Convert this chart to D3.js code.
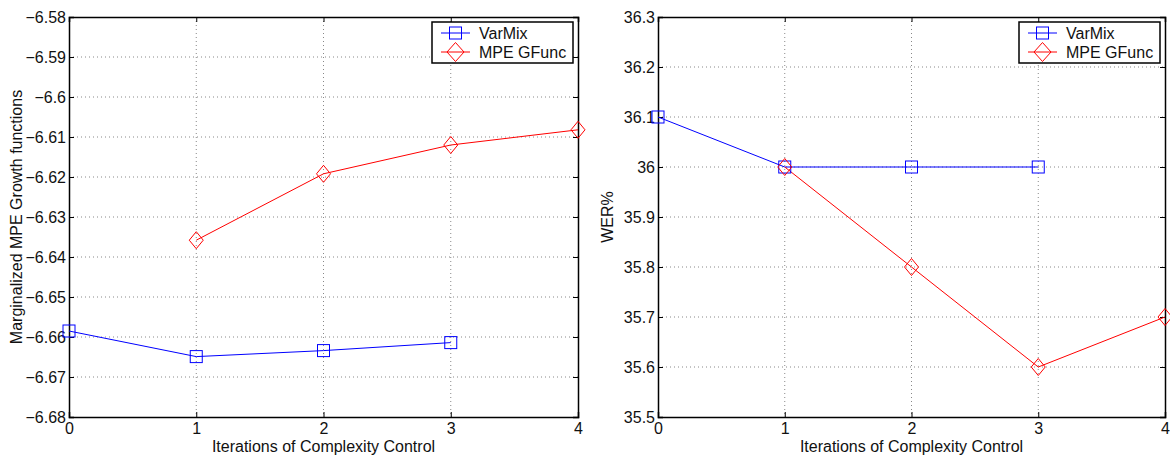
<!DOCTYPE html>
<html lang="en">
<head>
<meta charset="UTF-8" />
<title>Complexity control</title>
<script src="https://cdn.jsdelivr.net/npm/d3@7"></script>
<style>
  body { margin: 0; background: #fff; }
  text { font-family: "Liberation Sans", Arial, sans-serif; fill: #111; }
</style>
</head>
<body>
<div id="main"></div>
<script>
const iterations = [0, 1, 2, 3, 4]
const seriesNames = ["VarMix", "MPE GFunc"]

const leftVarMix = [-6.6585, -6.6649, -6.6634, -6.6614]
const leftMpe = [null, -6.6358, -6.6192, -6.612, -6.6082]
const leftTicks = [-6.58, -6.59, -6.6, -6.61, -6.62, -6.63, -6.64, -6.65, -6.66, -6.67, -6.68]

const rightVarMix = [36.1, 36.0, 36.0, 36.0]
const rightMpe = [null, 36.0, 35.8, 35.6, 35.7]
const rightTicks = [36.3, 36.2, 36.1, 36.0, 35.9, 35.8, 35.7, 35.6, 35.5]

const svgWidth = 1170
const svgHeight = 457
const plotTop = 17
const plotBottom = 417
const fontSize = 16

const svg = d3.select("#main").append("svg")
    .attr("width", svgWidth)
    .attr("height", svgHeight)

drawPanel({
    left: 69, right: 578,
    domain: [-6.68, -6.58], ticks: leftTicks,
    fmt: (d) => String(+d.toFixed(2)).replace("-", "\u2212"),
    varmix: leftVarMix, mpe: leftMpe,
    ylabel: "Marginalized MPE Growth functions", ylabelX: 16
})
drawPanel({
    left: 658, right: 1165,
    domain: [35.5, 36.3], ticks: rightTicks,
    fmt: (d) => String(+d.toFixed(1)),
    varmix: rightVarMix, mpe: rightMpe,
    ylabel: "WER%", ylabelX: 607
})

function drawPanel(o) {
    const x = d3.scaleLinear().domain([0, 4]).range([o.left, o.right])
    const y = d3.scaleLinear().domain(o.domain).range([plotBottom, plotTop])
    const g = svg.append("g")

    // grid
    g.append("g").selectAll("line")
        .data(o.ticks.slice(1, -1))
        .enter().append("line")
        .attr("x1", o.left).attr("x2", o.right)
        .attr("y1", (d) => y(d)).attr("y2", (d) => y(d))
        .attr("stroke", "#888").attr("stroke-width", 1)
        .attr("stroke-dasharray", "1,3")
    g.append("g").selectAll("line")
        .data(iterations.slice(1, -1))
        .enter().append("line")
        .attr("x1", (d) => x(d)).attr("x2", (d) => x(d))
        .attr("y1", plotTop).attr("y2", plotBottom)
        .attr("stroke", "#888").attr("stroke-width", 1)
        .attr("stroke-dasharray", "1,3")

    // axes (ticks inward)
    const yAxis = d3.axisLeft(y).tickValues(o.ticks).tickSize(-5).tickPadding(3).tickFormat(o.fmt)
    const xAxis = d3.axisBottom(x).tickValues(iterations).tickSize(-5).tickPadding(6).tickFormat(d3.format("d"))
    g.append("g").attr("transform", `translate(${o.left},0)`).call(yAxis)
    const xa = g.append("g").attr("transform", `translate(0,${plotBottom})`).call(xAxis)
    g.append("g").attr("transform", `translate(${o.right},0)`)
        .call(d3.axisRight(y).tickValues(o.ticks).tickSize(-5).tickFormat(""))
    g.append("g").attr("transform", `translate(0,${plotTop})`)
        .call(d3.axisTop(x).tickValues(iterations).tickSize(-5).tickFormat(""))
    g.selectAll(".domain").attr("stroke", "#000").attr("stroke-width", 1.5)
    g.selectAll(".tick line").attr("stroke", "#000")
    g.selectAll(".tick text").attr("font-size", fontSize).attr("font-family", "Liberation Sans, Arial, sans-serif").attr("fill", "#111")
    xa.selectAll(".tick text").attr("dy", "0.7em")

    // lines
    const line = d3.line().defined((d) => d[1] != null).x((d) => x(d[0])).y((d) => y(d[1]))
    const vm = o.varmix.map((v, i) => [iterations[i], v])
    const mp = o.mpe.map((v, i) => [iterations[i], v])
    g.append("path").datum(vm).attr("d", line).attr("fill", "none").attr("stroke", "#0000ff").attr("stroke-width", 1)
    g.append("path").datum(mp).attr("d", line).attr("fill", "none").attr("stroke", "#ff0000").attr("stroke-width", 1)

    g.selectAll("rect.vm").data(vm).enter().append("rect").classed("vm", true)
        .attr("x", (d) => x(d[0]) - 6).attr("y", (d) => y(d[1]) - 6)
        .attr("width", 12).attr("height", 12)
        .attr("fill", "none").attr("stroke", "#0000ff").attr("stroke-width", 1)
    g.selectAll("path.mp").data(mp.filter((d) => d[1] != null)).enter().append("path").classed("mp", true)
        .attr("d", (d) => diamond(x(d[0]), y(d[1]), 7, 8.5))
        .attr("fill", "none").attr("stroke", "#ff0000").attr("stroke-width", 1)

    // labels
    g.append("text")
        .attr("x", (o.left + o.right) / 2).attr("y", 452)
        .attr("text-anchor", "middle").attr("font-size", fontSize)
        .text("Iterations of Complexity Control")
    g.append("text")
        .attr("transform", `translate(${o.ylabelX},${(plotTop + plotBottom) / 2}) rotate(-90)`)
        .attr("text-anchor", "middle").attr("dy", "0.35em").attr("font-size", fontSize)
        .text(o.ylabel)

    // legend
    const lx = o.right - 146, ly = 22
    const lg = g.append("g")
    lg.append("rect").attr("x", lx).attr("y", ly).attr("width", 141).attr("height", 41)
        .attr("fill", "#fff").attr("stroke", "#000").attr("stroke-width", 1.5)
    const colors = ["#0000ff", "#ff0000"]
    seriesNames.forEach((name, i) => {
        const cy = ly + 11 + i * 19
        lg.append("line").attr("x1", lx + 9).attr("x2", lx + 38).attr("y1", cy).attr("y2", cy)
            .attr("stroke", colors[i]).attr("stroke-width", 1)
        if (i === 0) {
            lg.append("rect").attr("x", lx + 17.5).attr("y", cy - 6).attr("width", 12).attr("height", 12)
                .attr("fill", "none").attr("stroke", colors[i])
        } else {
            lg.append("path").attr("d", diamond(lx + 23.5, cy, 8.5, 9.5)).attr("fill", "none").attr("stroke", colors[i])
        }
        lg.append("text").attr("x", lx + 47).attr("y", cy).attr("dy", "0.35em")
            .attr("font-size", fontSize).text(name)
    })
}

function diamond(cx, cy, rx, ry) {
    return `M${cx},${cy - ry}L${cx + rx},${cy}L${cx},${cy + ry}L${cx - rx},${cy}Z`
}
</script>
</body>
</html>
